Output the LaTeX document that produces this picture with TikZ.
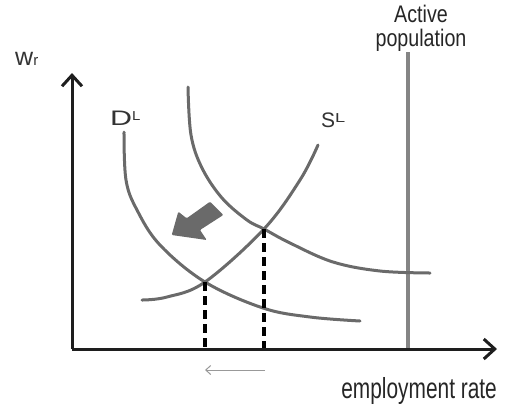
\documentclass[tikz,border=0pt]{standalone}
\usepackage{fontspec}
\setmainfont{Liberation Sans}
\usetikzlibrary{arrows.meta}
\definecolor{curvegray}{HTML}{6A6A6A}
\definecolor{popgray}{HTML}{858585}
\definecolor{axisblack}{HTML}{1E1E1E}
\definecolor{labelgray}{HTML}{333333}
\tikzset{
  axisline/.style={draw=axisblack, line width=3pt, -{Straight Barb[length=11pt,width=20pt,line width=3pt]}},
  curveline/.style={draw=curvegray, line width=3pt, line cap=round},
  dashline/.style={draw=black, line width=3.4pt, dash pattern=on 9pt off 5pt},
  lbl/.style={inner sep=0pt, text=labelgray},
  smallarrow/.style={draw=gray!80, line width=1pt, -{Straight Barb[length=5pt,width=9pt]}},
}
\begin{document}
\begin{tikzpicture}[x=1pt,y=-1pt]
\useasboundingbox (0,0) rectangle (508,405);

% coordinates
\coordinate (O) at (72,349);
\coordinate (ytip) at (72,73);
\coordinate (xtip) at (497,349);
\coordinate (E1) at (205,282);
\coordinate (E2) at (264,229);
\coordinate (E1b) at (205,349);
\coordinate (E2b) at (264,349);
\coordinate (popTop) at (408,52);
\coordinate (popBot) at (408,349);
\coordinate (sa) at (265,370);
\coordinate (sb) at (205,370);

% active population line
\draw[draw=popgray, line width=3.4pt] (popTop) -- (popBot);

% curves
\draw[curveline] plot[smooth, tension=0.6] coordinates {(124,132) (126,180) (137,210) (160,245) (205,282) (263,308) (310,317) (360,321)};
\draw[curveline] plot[smooth, tension=0.6] coordinates {(188,87) (191,135) (202,168) (222,198) (247,220) (264,229) (290,243) (333,262) (380,271) (430,273)};
\draw[curveline] plot[smooth, tension=0.6] coordinates {(142,300) (167,297) (205,282) (264,229) (300,180) (318,145)};

% dashed drops
\draw[dashline] (E1) -- (E1b);
\draw[dashline] (E2) -- (E2b);

% axes
\draw[axisline] (O) -- (ytip);
\draw[axisline] (O) -- (xtip);

% block arrow
\fill[curvegray, rounded corners=1pt] (171.7,235) -- (178.3,211.7) -- (186.7,218.3) -- (210,201.7) -- (223.3,215) -- (200,230) -- (206.7,240) -- cycle;

% small arrow
\draw[smallarrow] (sa) -- (sb);

% labels
\node[lbl, anchor=base west] (wr) at (15,65) {{\fontsize{25}{25}\selectfont w}{\fontsize{15}{15}\selectfont r}};
\node[lbl, anchor=base west] (DL) at (110,125) {{\fontsize{21}{21}\selectfont\scalebox{1.45}[1]{D}}\raisebox{5pt}{\fontsize{13}{13}\selectfont\scalebox{1.15}[1]{L}}};
\node[lbl, anchor=base west] (SL) at (321,127) {{\fontsize{21}{21}\selectfont S}\raisebox{5pt}{\fontsize{13}{13}\selectfont\scalebox{1.4}[1]{L}}};
\node[lbl, anchor=north, xscale=0.82, text=black!85, align=center, font=\fontsize{24}{24}\selectfont] (pop) at (421,5) {Active\\population};
\node[lbl, anchor=base east, xscale=0.72, text=black!85] (emp) at (497,398) {\fontsize{29}{29}\selectfont employment rate};
\end{tikzpicture}
\end{document}
